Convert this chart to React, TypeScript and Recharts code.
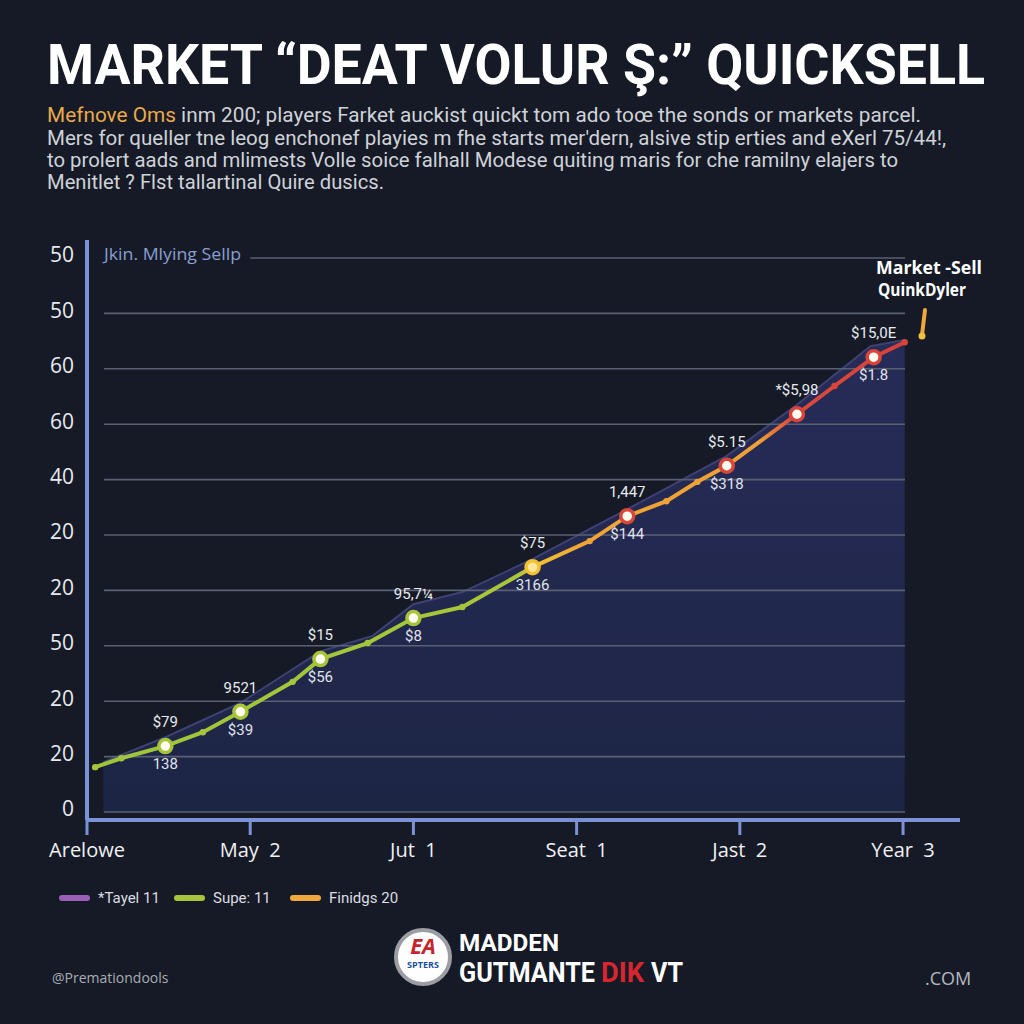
import React from "react"
import { ComposedChart, Line, Area, XAxis, YAxis, ReferenceLine } from "recharts"

// x is measured in periods: 0 = Arelowe ... 5 = Year 3
const periods = ["Arelowe", "May  2", "Jut  1", "Seat  1", "Jast  2", "Year  3"]
const yLabels = ["0", "20", "20", "50", "20", "20", "40", "60", "60", "50", "50"]
const yTicks = [0, 1, 2, 3, 4, 5, 6, 7, 8, 9, 10]

// quicksell line
const quickX = [0.05, 0.21, 0.48, 0.71, 0.94, 1.26, 1.43, 1.72, 2.0, 2.3, 2.73, 3.08, 3.31, 3.55, 3.74, 3.92, 4.35, 4.58, 4.82, 5.01]
const quickVal = [0.81, 0.97, 1.19, 1.44, 1.81, 2.35, 2.76, 3.05, 3.5, 3.7, 4.42, 4.89, 5.34, 5.61, 5.96, 6.25, 7.18, 7.69, 8.21, 8.48]
const priceAbove = ["", "", "$79", "", "9521", "", "$15", "", "95,7¼", "", "$75", "", "1,447", "", "", "$5.15", "*$5,98", "", "$15,0E", ""]
const priceBelow = ["", "", "138", "", "$39", "", "$56", "", "$8", "", "3166", "", "$144", "", "", "$318", "", "", "$1.8", ""]

// shaded "Tayel" area
const tayelX = [0.1, 0.48, 0.94, 1.43, 1.75, 2.0, 2.3, 2.72, 3.3, 3.92, 4.35, 4.8, 5.01]
const tayelVal = [0.9, 1.35, 1.97, 2.9, 3.18, 3.75, 3.97, 4.55, 5.45, 6.43, 7.35, 8.41, 8.52]

const legendNames = ["*Tayel 11", "Supe: 11", "Finidgs 20"]
const legendColors = ["#9b5fb5", "#a6c53b", "#f0a83c"]

const subtitle = [
  "inm 200; players Farket auckist quickt tom ado toœ the sonds or markets parcel.",
  "Mers for queller tne leog enchonef playies m fhe starts mer'dern, alsive stip erties and eXerl 75/44!,",
  "to prolert aads and mlimests Volle soice falhall Modese quiting maris for che ramilny elajers to",
  "Menitlet ? Flst tallartinal Quire dusics.",
]

const quickData = quickX.map((x, i) => ({ x, v: quickVal[i], above: priceAbove[i], below: priceBelow[i] }))
const tayelData = tayelX.map((x, i) => ({ x, t: tayelVal[i] }))

const FONT = "'Open Sans', 'Noto Sans', sans-serif"
const NARROW = "'Liberation Sans Narrow', Roboto, 'Liberation Sans', sans-serif"
const AXIS = "#7b93d6"
const GRID = "#5a6074"

function dotColor(x: number, marker: boolean) {
  if (x < 2.6) return "#a6c53b"
  if (x < 2.9) return "#f3c230"
  if (x < 4.2) return marker ? "#d9473a" : "#eea23a"
  return "#d9443a"
}

const QuickDot = (props: any) => {
  const { cx, cy, payload, index } = props
  const marker = payload.above !== ""
  const c = dotColor(payload.x, marker)
  if (!marker) return <circle key={index} cx={cx} cy={cy} r={3.2} fill={c} />
  return (
    <g key={index}>
      <circle cx={cx} cy={cy} r={6.5} fill={payload.x > 2.6 && payload.x < 2.9 ? "#fbe6a0" : "#fffdf0"} stroke={c} strokeWidth={3.5} />
      <text x={cx} y={cy - 19} textAnchor="middle" fill="#e8eaee" fontSize={15} fontFamily={NARROW}>{payload.above}</text>
      {payload.below && (
        <text x={cx} y={cy + 23} textAnchor="middle" fill="#e0e3ea" fontSize={15} fontFamily={NARROW}>{payload.below}</text>
      )}
    </g>
  )
}

const YTick = ({ x, y, payload }: any) => (
  <text x={x} y={y - 3} dy="0.35em" textAnchor="end" fill="#e8e9ee" fontSize={21} fontFamily={FONT}>
    {yLabels[payload.value]}
  </text>
)

const XTick = ({ x, y, payload }: any) => (
  <text x={x} y={y} dy={14} textAnchor="middle" fill="#f0f1f4" fontSize={20} fontFamily={FONT} style={{ whiteSpace: "pre" }}>
    {periods[payload.value]}
  </text>
)

export default function App() {
  return (
    <div style={{ position: "absolute", left: 0, top: 0, width: 1024, height: 1024, background: "#151a26", overflow: "hidden" }}>
      <div style={{ position: "absolute", left: 0, top: 0 }}>
        <ComposedChart width={1024} height={1024} margin={{ top: 240, right: 64, bottom: 164, left: 27 }}>
          <defs>
            <linearGradient id="quickStroke" x1="0" y1="0" x2="1" y2="0">
              <stop offset="0" stopColor="#9fc43a" />
              <stop offset="0.52" stopColor="#a8c63a" />
              <stop offset="0.55" stopColor="#f2c030" />
              <stop offset="0.6" stopColor="#f0a535" />
              <stop offset="0.82" stopColor="#f0a035" />
              <stop offset="0.86" stopColor="#dc4a3a" />
              <stop offset="1" stopColor="#d8403a" />
            </linearGradient>
            <linearGradient id="tayelFill" x1="0" y1="0" x2="0" y2="1">
              <stop offset="0" stopColor="#272c58" />
              <stop offset="1" stopColor="#1d2545" />
            </linearGradient>
          </defs>
          <XAxis
            dataKey="x"
            type="number"
            domain={[0, 5.349]}
            ticks={[0, 1, 2, 3, 4, 5]}
            allowDataOverflow
            height={40}
            axisLine={{ stroke: AXIS, strokeWidth: 4 }}
            tickLine={{ stroke: AXIS, strokeWidth: 3 }}
            tickSize={15}
            tickMargin={8}
            tick={<XTick />}
          />
          <YAxis
            type="number"
            domain={[-0.144, 10.325]}
            ticks={yTicks}
            allowDataOverflow
            width={60}
            axisLine={{ stroke: AXIS, strokeWidth: 4 }}
            tickLine={false}
            tickSize={0}
            tickMargin={13}
            tick={<YTick />}
          />
          <Area
            data={tayelData}
            dataKey="t"
            type="linear"
            stroke="#3e4172"
            strokeWidth={2}
            fill="url(#tayelFill)"
            fillOpacity={1}
            isAnimationActive={false}
          />
          {yTicks.map((v) => (
            <ReferenceLine
              key={v}
              segment={[{ x: v === 10 ? 1.0 : 0.104, y: v }, { x: 5.012, y: v }]}
              stroke={GRID}
              strokeWidth={1.6}
            />
          ))}
          <Line
            data={quickData}
            dataKey="v"
            type="linear"
            stroke="url(#quickStroke)"
            strokeWidth={4}
            dot={<QuickDot />}
            activeDot={false}
            isAnimationActive={false}
          />
        </ComposedChart>
      </div>

      <svg width={1024} height={1024} style={{ position: "absolute", left: 0, top: 0, pointerEvents: "none" }}>
        <text x={47} y={84} fill="#ffffff" fontSize={56} fontWeight={700} fontFamily={NARROW} textLength={938} lengthAdjust="spacingAndGlyphs">
          MARKET “DEAT VOLUR Ş:” QUICKSELL
        </text>

        <text x={47} y={122} fontSize={20} fontFamily={NARROW} fill="#cfd2d8" textLength={874} lengthAdjust="spacingAndGlyphs">
          <tspan fill="#e9a94b">Mefnove Oms</tspan> {subtitle[0]}
        </text>
        <text x={47} y={145} fontSize={20} fontFamily={NARROW} fill="#cfd2d8" textLength={899} lengthAdjust="spacingAndGlyphs">
          {subtitle[1]}
        </text>
        <text x={47} y={167} fontSize={20} fontFamily={NARROW} fill="#cfd2d8" textLength={851} lengthAdjust="spacingAndGlyphs">
          {subtitle[2]}
        </text>
        <text x={47} y={189} fontSize={20} fontFamily={NARROW} fill="#cfd2d8" textLength={337} lengthAdjust="spacingAndGlyphs">
          {subtitle[3]}
        </text>

        <text x={104} y={260} fontSize={17} fontFamily={FONT} fill="#8a9fd2" textLength={137} lengthAdjust="spacingAndGlyphs">Jkin. Mlying Sellp</text>

        <text x={876} y={274} fontSize={17} fontWeight={700} fontFamily={FONT} fill="#ffffff" textLength={106} lengthAdjust="spacingAndGlyphs">Market -Sell</text>
        <text x={878} y={296} fontSize={17} fontWeight={700} fontFamily={FONT} fill="#ffffff" textLength={88} lengthAdjust="spacingAndGlyphs">QuinkDyler</text>
        <line x1={925} y1={310} x2={922} y2={335} stroke="#f0a83c" strokeWidth={4} strokeLinecap="round" />
        <circle cx={922} cy={336} r={3.5} fill="#f0c040" />

        {legendNames.map((name, i) => {
          const x0 = [59, 174, 290][i]
          return (
            <g key={name}>
              <rect x={x0} y={895} width={31} height={6} rx={3} fill={legendColors[i]} />
              <text x={x0 + 39} y={903} fontSize={15} fontFamily={NARROW} fill="#dcdde2">{name}</text>
            </g>
          )
        })}

        <circle cx={423} cy={957} r={27} fill="#ffffff" stroke="#9c9ea4" strokeWidth={4} />
        <text x={423} y={954} textAnchor="middle" fontSize={22} fontWeight={700} fontStyle="italic" fontFamily={FONT} fill="#c4262e">EA</text>
        <text x={423} y={968} textAnchor="middle" fontSize={9} fontWeight={700} fontFamily={FONT} fill="#1d4f9c">SPTERS</text>
        <text x={459} y={951} fontSize={24} fontWeight={700} fontFamily={NARROW} fill="#ffffff" textLength={100} lengthAdjust="spacingAndGlyphs">MADDEN</text>
        <text x={459} y={982} fontSize={27} fontWeight={700} fontFamily={NARROW} fill="#ffffff" textLength={136} lengthAdjust="spacingAndGlyphs">GUTMANTE</text>
        <text x={601} y={982} fontSize={27} fontWeight={700} fontFamily={NARROW} fill="#d8262e" textLength={43} lengthAdjust="spacingAndGlyphs">DIK</text>
        <text x={651} y={982} fontSize={27} fontWeight={700} fontFamily={NARROW} fill="#ffffff" textLength={32} lengthAdjust="spacingAndGlyphs">VT</text>

        <text x={52} y={983} fontSize={14} fontFamily={FONT} fill="#a9acb4">@Premationdools</text>
        <text x={925} y={985} fontSize={18} fontFamily={FONT} fill="#b5b8c0">.COM</text>
      </svg>
    </div>
  )
}
